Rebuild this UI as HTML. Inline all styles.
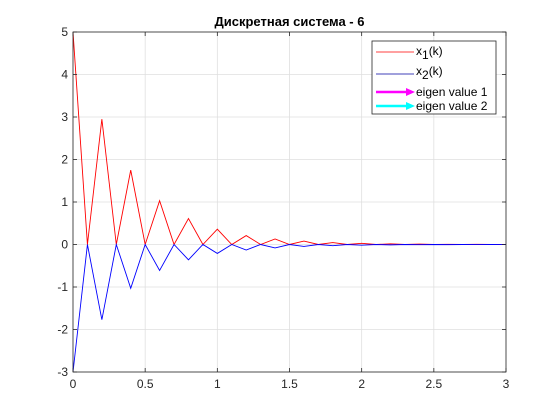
<!DOCTYPE html>
<html><head><meta charset="utf-8"><style>
body{margin:0;background:#fff;}
svg{display:block;font-family:"Liberation Sans","DejaVu Sans",sans-serif;}
</style></head><body>
<svg id="chart" width="560" height="420" viewBox="0 0 560 420">
<rect x="0" y="0" width="560" height="420" fill="#fff"/>
<text x="289.5" y="26" text-anchor="middle" font-size="13" font-weight="bold" fill="#000">Дискретная система - 6</text>
<g id="grid"></g>
<g id="series"></g>
<rect x="73" y="32" width="433" height="340" fill="none" stroke="#262626" stroke-width="0.8"/>
<g id="ticks"></g>
<g>
<rect x="372" y="41" width="124" height="73" fill="#fff" stroke="#262626" stroke-width="0.8"/>
<line x1="376" y1="52" x2="414" y2="52" stroke="#ff0000" stroke-width="0.8"/>
<text x="416" y="55" font-size="12" fill="#000">x<tspan font-size="12" dy="4">1</tspan><tspan dy="-4">(k)</tspan></text>
<line x1="376" y1="74" x2="414" y2="74" stroke="#0000a0" stroke-width="0.8"/>
<text x="416" y="75" font-size="12" fill="#000">x<tspan font-size="12" dy="4">2</tspan><tspan dy="-4">(k)</tspan></text>
<line x1="376" y1="92" x2="408" y2="92" stroke="#ff00ff" stroke-width="2.5"/>
<polygon points="406,88 415,92 406,96" fill="#ff00ff"/>
<text x="416" y="96" font-size="12" fill="#000">eigen value 1</text>
<line x1="376" y1="106" x2="408" y2="106" stroke="#00ffff" stroke-width="2.5"/>
<polygon points="406,102 415,106 406,110" fill="#00ffff"/>
<text x="416" y="110" font-size="12" fill="#000">eigen value 2</text>
</g>
</svg>
<script>
const tValues = [0,0.1,0.2,0.3,0.4,0.5,0.6,0.7,0.8,0.9,1.0,1.1,1.2,1.3,1.4,1.5,1.6,1.7,1.8,1.9,2.0,2.1,2.2,2.3,2.4,2.5,2.6,2.7,2.8,2.9,3.0];
const x1Values = [5,0,2.95,0,1.75,0,1.03,0,0.61,0,0.36,0,0.21,0,0.13,0,0.08,0,0.045,0,0.027,0,0.016,0,0.009,0,0.005,0,0.003,0,0.002];
const x2Values = [-3,0,-1.77,0,-1.03,0,-0.61,0,-0.36,0,-0.21,0,-0.13,0,-0.08,0,-0.045,0,-0.027,0,-0.016,0,-0.009,0,-0.005,0,-0.003,0,-0.002,0,-0.001];
const xTicks = [0,0.5,1,1.5,2,2.5,3];
const xTickLabels = ["0","0.5","1","1.5","2","2.5","3"];
const yTicks = [-3,-2,-1,0,1,2,3,4,5];
const yTickLabels = ["-3","-2","-1","0","1","2","3","4","5"];

const L=73,R=506,T=32,B=372;
const sx=v=>L+(v-0)/(3-0)*(R-L);
const sy=v=>B-(v+3)/(5+3)*(B-T);
const NS="http://www.w3.org/2000/svg";
const grid=document.getElementById('grid'),ticks=document.getElementById('ticks'),series=document.getElementById('series');
function mk(tag,attrs,parent){const e=document.createElementNS(NS,tag);for(const k in attrs)e.setAttribute(k,attrs[k]);parent.appendChild(e);return e;}
xTicks.forEach((v,i)=>{
  const x=sx(v);
  const g=mk('line',{x1:x,y1:T,x2:x,y2:B,stroke:'#dfdfdf','stroke-width':0.8},grid);
  
  
  const t1=mk('line',{x1:x,y1:B,x2:x,y2:B-4,stroke:'#262626','stroke-width':0.8},ticks);
  
  
  const t2=mk('line',{x1:x,y1:T,x2:x,y2:T+4,stroke:'#262626','stroke-width':0.8},ticks);
  
  
  const lb=mk('text',{x:x,y:B+16,'text-anchor':'middle','font-size':12,fill:'#262626'},ticks);
  lb.textContent=xTickLabels[i];
  
  
});
yTicks.forEach((v,i)=>{
  const y=sy(v);
  const g=mk('line',{x1:L,y1:y,x2:R,y2:y,stroke:'#dfdfdf','stroke-width':0.8},grid);
  
  
  const t1=mk('line',{x1:L,y1:y,x2:L+4,y2:y,stroke:'#262626','stroke-width':0.8},ticks);
  
  
  const t2=mk('line',{x1:R,y1:y,x2:R-4,y2:y,stroke:'#262626','stroke-width':0.8},ticks);
  
  
  const lb=mk('text',{x:L-5,y:y+4,'text-anchor':'end','font-size':12,fill:'#262626'},ticks);
  lb.textContent=yTickLabels[i];
  
  
});
function line(vals,color,name){
  const pts=tValues.map((t,i)=>sx(t)+','+sy(vals[i])).join(' ');
  const p=mk('polyline',{points:pts,fill:'none',stroke:color,'stroke-width':0.9},series);
  
  
}
line(x1Values,'#ff0000','series-x1');
line(x2Values,'#0000ff','series-x2');
</script>
</body></html>
